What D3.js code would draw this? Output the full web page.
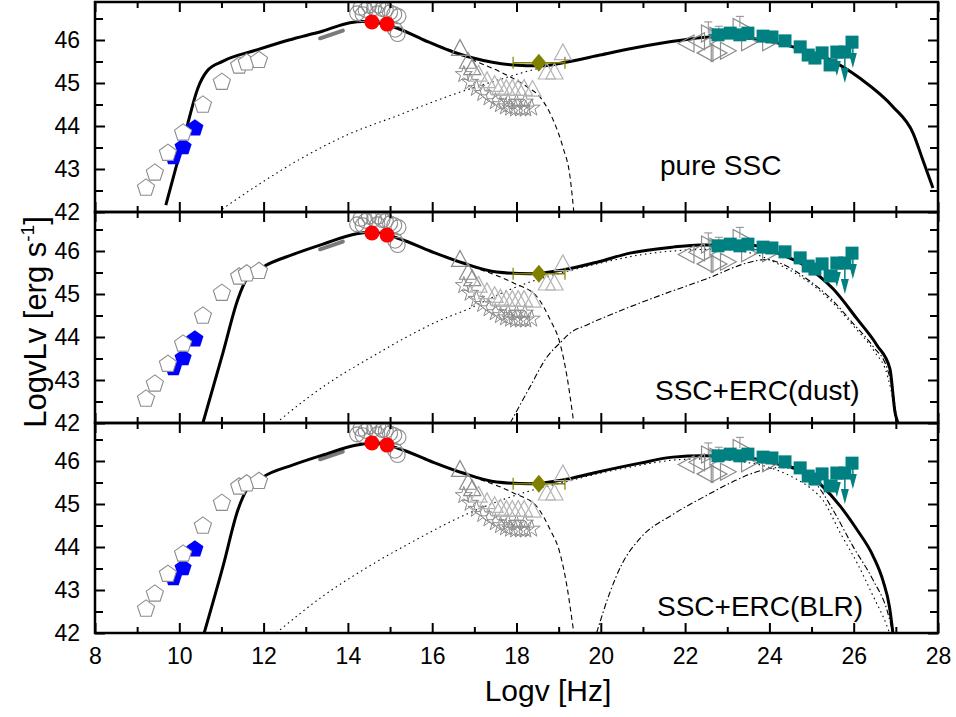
<!DOCTYPE html>
<html>
<head>
<meta charset="utf-8">
<script src="https://cdn.jsdelivr.net/npm/d3@7"></script>
<style>
  body { margin: 0; background: #fff; }
  text { font-family: "Liberation Sans", Arial, sans-serif; }
</style>
</head>
<body>
<svg id="chart" width="956" height="717"></svg>
<script>
// ---- axis ticks and labels ----
const xTicksMajor = [8, 10, 12, 14, 16, 18, 20, 22, 24, 26, 28];
const xTicksMinor = [9, 11, 13, 15, 17, 19, 21, 23, 25, 27];
const yTicksMajor = [42, 43, 44, 45, 46];
const yTicksMinor = [42.5, 43.5, 44.5, 45.5, 46.5];
const panelNames = ["pure SSC", "SSC+ERC(dust)", "SSC+ERC(BLR)"];

// ---- observed SED points [log nu, log nuLnu] ----
const radioOpen = [[9.21,42.56],[9.42,42.91],[9.73,43.37],[10.09,43.84],[10.56,44.49],[11.01,45.02],[11.42,45.40],[11.60,45.47],[11.89,45.53]];
const radioFilled = [[9.86,43.28],[10.09,43.51],[10.37,43.95]];
const irSlope = [[13.34,46.04],[13.88,46.22]];
const opticalOpen = [[14.22,46.62],[14.30,46.75],[14.42,46.70],[14.50,46.80],[14.62,46.74],[14.72,46.80],[14.82,46.72],[14.90,46.70],[15.00,46.64],[15.10,46.60],[15.20,46.55],[14.35,46.60],[14.70,46.62],[15.12,46.24],[15.18,46.14]];
const opticalFilled = [[14.57,46.42],[14.93,46.37]];
const xrayTriangles = [[16.66,45.80],[16.85,45.50],[16.95,45.35],[17.10,45.20],[17.30,45.05],[17.48,44.96],[17.62,44.90],[17.76,44.87],[17.90,44.87],[18.04,44.87],[18.18,44.87],[18.38,44.85],[18.72,45.25],[18.90,45.25],[19.10,45.70]];
const xrayStars = [[16.75,45.20],[16.90,45.02],[17.05,44.88],[17.20,44.76],[17.35,44.66],[17.50,44.57],[17.62,44.50],[17.74,44.45],[17.86,44.42],[17.98,44.40],[18.10,44.40],[18.22,44.40],[18.36,44.42],[17.80,44.56],[18.00,44.55],[18.20,44.56]];
// [log nu, log nuLnu, log nu low, log nu high]
const hardXray = [[18.53,45.47,17.92,19.15]];
const gammaLeft = [[22.05,45.92],[22.30,45.97],[22.50,45.70]];
const gammaRight = [[22.55,46.15],[22.75,46.10],[22.78,45.70],[23.00,45.75],[23.30,46.30],[23.50,45.95],[24.00,45.95]];
// [log nu, lower, upper]
const gammaErr = [[22.55,46.15,46.42],[22.80,46.10,46.32],[23.30,46.30,46.55]];
const vheSquares = [[22.78,46.12],[23.07,46.16],[23.30,46.12],[23.49,46.16],[23.85,46.09],[24.06,46.07],[24.37,45.98],[24.73,45.84],[24.92,45.65],[25.08,45.58],[25.25,45.70],[25.44,45.42],[25.60,45.72],[25.79,45.72],[25.96,45.95]];
// [log nu low, log nu high, log nuLnu]
const vheHorizErr = [[22.55,23.05,46.12],[23.20,23.60,46.06],[23.60,24.00,46.03]];
// [log nu, from, arrow tip]
const vheLimits = [[25.60,45.72,45.16],[25.79,45.72,45.00],[25.98,45.95,45.35]];

// ---- model curves, one set per panel ----
const totalSSC = [[9.68,42.16],[10.18,43.98],[10.44,44.88],[10.66,45.28],[11.04,45.51],[11.84,45.77],[12.60,46.00],[13.41,46.21],[14.05,46.40],[14.35,46.43],[14.70,46.40],[15.16,46.28],[15.80,46.00],[16.50,45.72],[16.97,45.58],[17.92,45.42],[18.56,45.40],[19.20,45.49],[19.98,45.65],[20.76,45.81],[21.95,46.00],[22.60,46.07],[23.37,46.05],[24.00,45.97],[24.56,45.84],[25.36,45.58],[26.15,45.11],[26.93,44.45],[27.41,43.83],[27.64,43.21],[27.88,42.56]];
const synPure = [[16.00,45.93],[16.60,45.70],[17.00,45.52],[17.61,45.26],[18.25,44.91],[18.56,44.67],[18.87,44.14],[19.10,43.51],[19.27,42.82],[19.36,42.00]];
const sscPure = [[10.92,42.00],[11.90,42.65],[12.90,43.25],[14.00,43.80],[15.20,44.25],[16.40,44.70],[17.50,45.05],[18.56,45.35],[19.40,45.52]];

const totalDust = [[10.56,42.00],[11.04,43.65],[11.39,44.88],[11.60,45.35],[11.99,45.63],[12.70,45.92],[13.41,46.16],[14.21,46.40],[14.60,46.44],[15.24,46.28],[15.95,46.00],[16.73,45.72],[17.53,45.51],[18.32,45.47],[19.10,45.56],[19.91,45.74],[20.69,45.95],[21.71,46.09],[22.35,46.14],[23.54,46.14],[24.25,45.93],[24.89,45.63],[25.51,45.12],[26.08,44.42],[26.55,43.81],[26.86,43.26],[26.98,42.25],[27.05,42.00]];
const synDust = [[16.00,45.98],[16.73,45.72],[17.06,45.60],[17.92,45.26],[18.49,44.93],[18.80,44.40],[19.03,43.86],[19.20,43.07],[19.34,42.14],[19.36,42.00]];
const sscDust = [[12.30,42.00],[13.00,42.55],[13.65,43.00],[14.50,43.50],[15.30,43.95],[16.10,44.35],[16.90,44.67],[17.60,45.00],[18.32,45.28],[19.10,45.50],[20.00,45.72],[21.00,45.92],[22.00,46.02],[22.70,46.04],[23.30,46.00],[23.80,45.88],[24.30,45.65],[24.90,45.30],[25.50,44.80],[26.00,44.25],[26.50,43.65],[26.80,43.10],[26.95,42.40],[27.00,42.00]];
const ercDust = [[17.85,42.00],[18.32,42.84],[18.72,43.53],[19.05,43.88],[19.27,44.09],[19.67,44.28],[20.69,44.70],[21.50,45.00],[22.50,45.35],[23.54,45.74],[23.90,45.80],[24.30,45.70],[24.89,45.35],[25.50,44.85],[26.00,44.30],[26.46,43.78],[26.80,43.25],[26.95,42.60],[27.03,42.00]];

const totalBLR = [[10.59,42.00],[11.04,43.56],[11.39,44.86],[11.60,45.33],[11.99,45.63],[12.70,45.91],[13.41,46.14],[14.21,46.37],[14.60,46.42],[15.24,46.28],[15.95,46.00],[16.73,45.72],[17.53,45.51],[18.32,45.47],[19.10,45.56],[19.91,45.74],[20.93,45.95],[21.71,46.09],[22.42,46.12],[23.30,46.10],[24.09,45.95],[24.89,45.72],[25.25,45.42],[25.68,44.95],[26.08,44.40],[26.46,43.79],[26.70,43.20],[26.85,42.60],[26.93,42.00]];
const synBLR = [[16.00,45.98],[16.73,45.72],[17.06,45.60],[17.92,45.26],[18.49,44.93],[18.80,44.40],[19.03,43.86],[19.20,43.07],[19.34,42.14],[19.36,42.00]];
const sscBLR = [[12.30,42.00],[13.41,42.86],[14.50,43.55],[15.47,44.09],[16.90,44.80],[18.30,45.30],[19.10,45.50],[20.00,45.72],[20.93,45.90],[21.71,46.02],[22.40,46.05],[23.20,46.00],[24.00,45.85],[24.60,45.60],[25.00,45.35],[25.27,45.09],[25.68,44.33],[26.08,43.63],[26.46,42.86],[26.79,42.16],[26.85,42.00]];
const ercBLR = [[19.90,42.00],[20.20,42.90],[20.50,43.60],[20.93,44.20],[21.70,44.75],[22.51,45.20],[23.20,45.55],[23.70,45.75],[24.25,45.85],[24.89,45.70],[25.20,45.35],[25.51,44.86],[25.98,44.02],[26.46,43.23],[26.79,42.53],[26.93,42.00]];

const panelCurves = [
  { total: totalSSC,  syn: synPure, ssc: sscPure, erc: null },
  { total: totalDust, syn: synDust, ssc: sscDust, erc: ercDust },
  { total: totalBLR,  syn: synBLR,  ssc: sscBLR,  erc: ercBLR }
];

// ---- layout ----
const svg = d3.select("#chart");
const left = 95, right = 938;
const panelEdges = [2, 212, 423, 633];
const pxPerDecade = 43;

const x = d3.scaleLinear().domain([8, 28]).range([left, right]);

const grey = "#8c8c8c", lightGrey = "#b4b4b4", teal = "#008080";

function pentagon(r) {
  const pts = d3.range(5).map(k => {
    const a = -Math.PI / 2 + k * 2 * Math.PI / 5;
    return [r * Math.cos(a), r * Math.sin(a)];
  });
  return "M" + pts.map(p => p.join(",")).join("L") + "Z";
}
function triangle(r, dir) {
  // dir: 0 up, 1 left, 2 right, 3 down
  const base = [[0, -r], [r * 0.95, r * 0.75], [-r * 0.95, r * 0.75]];
  const rot = [0, -90, 90, 180][dir] * Math.PI / 180;
  const pts = base.map(([px, py]) => [px * Math.cos(rot) - py * Math.sin(rot), px * Math.sin(rot) + py * Math.cos(rot)]);
  return "M" + pts.map(p => p.join(",")).join("L") + "Z";
}
const starPath = d3.symbol(d3.symbolStar, 90)();

panelCurves.forEach((curves, i) => {
  const top = panelEdges[i], bottom = panelEdges[i + 1];
  const y = d3.scaleLinear().domain([42, 42 + (bottom - top) / pxPerDecade]).range([bottom, top]);
  const g = svg.append("g");
  const clipId = "clip" + i;
  svg.append("clipPath").attr("id", clipId)
    .append("rect").attr("x", left).attr("y", top).attr("width", right - left).attr("height", bottom - top);
  const plot = g.append("g").attr("clip-path", `url(#${clipId})`);

  const line = d3.line().x(d => x(d[0])).y(d => y(d[1])).curve(d3.curveMonotoneX);

  plot.append("path").datum(curves.ssc).attr("d", line)
    .attr("fill", "none").attr("stroke", "#000").attr("stroke-width", 1.1).attr("stroke-dasharray", "1.5,3.5");
  plot.append("path").datum(curves.syn).attr("d", line)
    .attr("fill", "none").attr("stroke", "#000").attr("stroke-width", 1.1).attr("stroke-dasharray", "5,3.5");
  if (curves.erc) {
    plot.append("path").datum(curves.erc).attr("d", line)
      .attr("fill", "none").attr("stroke", "#000").attr("stroke-width", 1.1).attr("stroke-dasharray", "6,2.5,1.5,2.5");
  }

  // IR slope
  plot.append("path").datum(irSlope).attr("d", d3.line().x(d => x(d[0])).y(d => y(d[1])))
    .attr("stroke", "#7a7a7a").attr("stroke-width", 4).attr("stroke-linecap", "round");

  // total model
  plot.append("path").datum(curves.total).attr("d", line)
    .attr("fill", "none").attr("stroke", "#000").attr("stroke-width", 3);

  // radio
  plot.selectAll(".rf").data(radioFilled).join("path")
    .attr("d", pentagon(9)).attr("transform", d => `translate(${x(d[0])},${y(d[1])})`)
    .attr("fill", "#0000ff");
  plot.selectAll(".ro").data(radioOpen).join("path")
    .attr("d", pentagon(9)).attr("transform", d => `translate(${x(d[0])},${y(d[1])})`)
    .attr("fill", "#fff").attr("stroke", grey).attr("stroke-width", 1.1);

  // optical / UV
  plot.selectAll(".oo").data(opticalOpen).join("circle")
    .attr("cx", d => x(d[0])).attr("cy", d => y(d[1])).attr("r", 7.5)
    .attr("fill", "none").attr("stroke", grey).attr("stroke-width", 1.1);
  plot.selectAll(".of").data(opticalFilled).join("circle")
    .attr("cx", d => x(d[0])).attr("cy", d => y(d[1])).attr("r", 7.5)
    .attr("fill", "#ff0000");

  // X-ray
  plot.selectAll(".xs").data(xrayStars).join("path")
    .attr("d", starPath).attr("transform", d => `translate(${x(d[0])},${y(d[1])})`)
    .attr("fill", "none").attr("stroke", grey).attr("stroke-width", 1);
  plot.selectAll(".xt").data(xrayTriangles).join("path")
    .attr("d", triangle(9, 0)).attr("transform", d => `translate(${x(d[0])},${y(d[1])})`)
    .attr("fill", "none").attr("stroke", (d, k) => k < 3 ? grey : lightGrey).attr("stroke-width", 1.2);

  // hard X-ray
  hardXray.forEach(d => {
    plot.append("line").attr("x1", x(d[2])).attr("x2", x(d[3])).attr("y1", y(d[1])).attr("y2", y(d[1]))
      .attr("stroke", "#7f7f00").attr("stroke-width", 1.5);
    [d[2], d[3]].forEach(v => plot.append("line").attr("x1", x(v)).attr("x2", x(v))
      .attr("y1", y(d[1]) - 6).attr("y2", y(d[1]) + 6).attr("stroke", "#7f7f00").attr("stroke-width", 1.2));
    plot.append("path").attr("d", "M0,-9L7.5,0L0,9L-7.5,0Z")
      .attr("transform", `translate(${x(d[0])},${y(d[1])})`).attr("fill", "#7f7f00");
  });

  // gamma-ray (GeV)
  gammaErr.forEach(d => {
    plot.append("line").attr("x1", x(d[0])).attr("x2", x(d[0])).attr("y1", y(d[1])).attr("y2", y(d[2]))
      .attr("stroke", grey).attr("stroke-width", 1);
    plot.append("line").attr("x1", x(d[0]) - 4).attr("x2", x(d[0]) + 4).attr("y1", y(d[2])).attr("y2", y(d[2]))
      .attr("stroke", grey).attr("stroke-width", 1);
  });
  plot.selectAll(".gl").data(gammaLeft).join("path")
    .attr("d", triangle(9, 1)).attr("transform", d => `translate(${x(d[0])},${y(d[1])})`)
    .attr("fill", "none").attr("stroke", grey).attr("stroke-width", 1.2);
  plot.selectAll(".gr").data(gammaRight).join("path")
    .attr("d", triangle(9, 2)).attr("transform", d => `translate(${x(d[0])},${y(d[1])})`)
    .attr("fill", "none").attr("stroke", grey).attr("stroke-width", 1.2);

  // VHE
  vheHorizErr.forEach(d => {
    plot.append("line").attr("x1", x(d[0])).attr("x2", x(d[1])).attr("y1", y(d[2])).attr("y2", y(d[2]))
      .attr("stroke", teal).attr("stroke-width", 1.5);
  });
  vheLimits.forEach(d => {
    plot.append("line").attr("x1", x(d[0])).attr("x2", x(d[0])).attr("y1", y(d[1])).attr("y2", y(d[2]) - 12)
      .attr("stroke", teal).attr("stroke-width", 1.5);
    plot.append("path").attr("d", "M-4,-15L4,-15L0,0Z")
      .attr("transform", `translate(${x(d[0])},${y(d[2])})`).attr("fill", teal);
  });
  plot.selectAll(".vs").data(vheSquares).join("rect")
    .attr("x", d => x(d[0]) - 6.5).attr("y", d => y(d[1]) - 6.5).attr("width", 13).attr("height", 13)
    .attr("fill", teal);

  // ---- axes (ticks point inward) ----
  const axG = g.append("g");
  const noLabel = () => "";
  axG.append("g").attr("transform", `translate(0,${bottom})`)
    .call(d3.axisBottom(x).tickValues(xTicksMajor).tickSize(-10).tickFormat(i === 2 ? d3.format("d") : noLabel).tickPadding(15));
  axG.append("g").attr("transform", `translate(0,${bottom})`)
    .call(d3.axisBottom(x).tickValues(xTicksMinor).tickSize(-6).tickFormat(noLabel));
  axG.append("g").attr("transform", `translate(0,${top})`)
    .call(d3.axisTop(x).tickValues(xTicksMajor).tickSize(-10).tickFormat(noLabel));
  axG.append("g").attr("transform", `translate(0,${top})`)
    .call(d3.axisTop(x).tickValues(xTicksMinor).tickSize(-6).tickFormat(noLabel));
  axG.append("g").attr("transform", `translate(${left},0)`)
    .call(d3.axisLeft(y).tickValues(yTicksMajor).tickSize(-10).tickFormat(d3.format("d")).tickPadding(15));
  axG.append("g").attr("transform", `translate(${left},0)`)
    .call(d3.axisLeft(y).tickValues(yTicksMinor).tickSize(-8).tickFormat(noLabel));
  axG.append("g").attr("transform", `translate(${right},0)`)
    .call(d3.axisRight(y).tickValues(yTicksMajor).tickSize(-10).tickFormat(noLabel));
  axG.append("g").attr("transform", `translate(${right},0)`)
    .call(d3.axisRight(y).tickValues(yTicksMinor).tickSize(-8).tickFormat(noLabel));
  axG.selectAll(".domain").remove();
  axG.selectAll(".tick line").attr("stroke", "#000").attr("stroke-width", 2);
  axG.selectAll(".tick text").attr("font-size", 23).attr("fill", "#000")
    .attr("font-family", "'Liberation Sans', Arial, sans-serif");

  g.append("rect").attr("x", left).attr("y", top).attr("width", right - left).attr("height", bottom - top)
    .attr("fill", "none").attr("stroke", "#000").attr("stroke-width", 2.5);

  // panel title
  const labelX = [660, 655, 657][i];
  const labelY = [175, 400, 616][i];
  g.append("text").attr("x", labelX).attr("y", labelY).attr("font-size", 28).text(panelNames[i]);
});

// axis titles
svg.append("text").attr("x", 548).attr("y", 701).attr("text-anchor", "middle")
  .attr("font-size", 30).text("Logv [Hz]");
const yt = svg.append("text").attr("transform", "translate(46,322) rotate(-90)").attr("text-anchor", "middle")
  .attr("font-size", 31);
yt.append("tspan").text("LogvLv [erg s");
yt.append("tspan").attr("font-size", 19).attr("dy", -12).text("-1");
yt.append("tspan").attr("dy", 12).text("]");
</script>
</body>
</html>
